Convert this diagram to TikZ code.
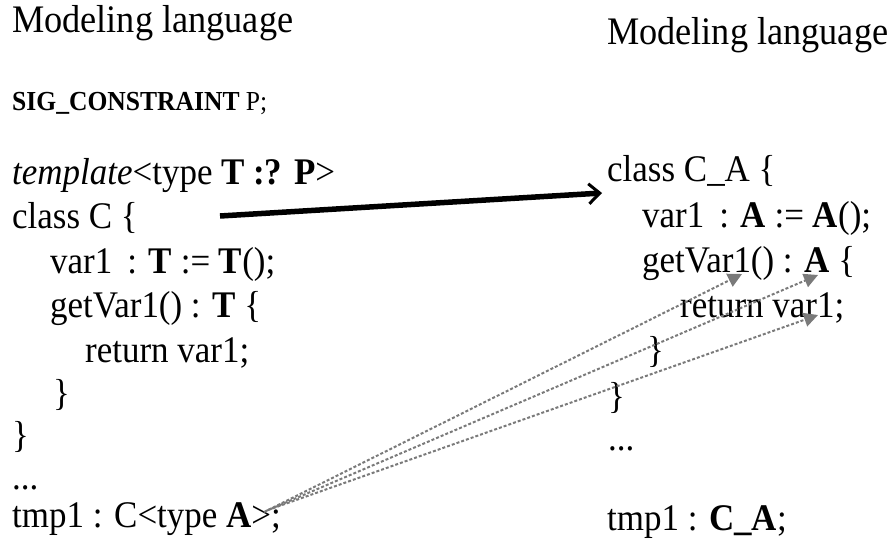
\documentclass[tikz,border=0pt]{standalone}
\usepackage{fontspec}
\setmainfont[FakeStretch=0.93]{Liberation Serif}
\usetikzlibrary{arrows.meta}
\definecolor{arrowgray}{HTML}{7A7A7A}
\begin{document}
\begin{tikzpicture}[x=1pt,y=-1pt]
\useasboundingbox (0,0) rectangle (893,548);
\tikzset{
  titletext/.style={anchor=base west, inner sep=0pt, font=\fontsize{39}{42}\selectfont},
  codetext/.style={anchor=base west, inner sep=0pt, font=\fontsize{37.6}{40}\selectfont},
  sigtext/.style={anchor=base west, inner sep=0pt, font=\fontsize{27.5}{30}\selectfont},
  bigarrow/.style={line width=5.5pt, -{Straight Barb[length=11pt,width=20pt,line width=3pt]}},
  maparrow/.style={draw=arrowgray, line width=2pt, dash pattern=on 3pt off 2pt, -{Triangle[length=14pt,width=14pt]}}
}
% left column
\node[titletext] (ltitle) at (12,33) {Modeling language};
\node[sigtext] (sig) at (12,111) {\textbf{SIG\_CONSTRAINT} P;};
\node[codetext] (ltemplate) at (12,185) {\textit{template}<type \textbf{T :? P}>};
\node[codetext] (lclass) at (12,228) {class C \{};
\node[codetext] (lvar) at (50,273) {var1 \,: \textbf{T} := \textbf{T}();};
\node[codetext] (lget) at (50,317) {getVar1() : \textbf{T} \{};
\node[codetext] (lret) at (85,362) {return var1;};
\node[codetext] (lbrace1) at (53,405) {\}};
\node[codetext] (lbrace2) at (12,447) {\}};
\node[codetext] (ldots) at (12,489) {...};
\node[codetext] (ltmp) at (12,527) {tmp1 : C<type \textbf{A}>;};
% right column
\node[titletext] (rtitle) at (607,45) {Modeling language};
\node[codetext] (rclass) at (607,182) {class C\_A \{};
\node[codetext] (rvar) at (642,227) {var1 \,: \textbf{A} := \textbf{A}();};
\node[codetext] (rget) at (642,272) {getVar1() : \textbf{A} \{};
\node[codetext] (rret) at (680,317) {return var1;};
\node[codetext] (rbrace1) at (647,362) {\}};
\node[codetext] (rbrace2) at (608,408) {\}};
\node[codetext] (rdots) at (608,450) {...};
\node[codetext] (rtmp) at (607,530) {tmp1 : \textbf{C\_A};};
% connectors
\coordinate (bigstart) at (220,216);
\coordinate (bigend) at (602,193);
\draw[bigarrow] (bigstart) -- (bigend);
\coordinate (ms1) at (264,512);
\coordinate (ms2) at (266,511);
\coordinate (ms3) at (268,510);
\coordinate (me1) at (742,274);
\coordinate (me2) at (818,275);
\coordinate (me3) at (818,315);
\draw[maparrow] (ms1) -- (me1);
\draw[maparrow] (ms2) -- (me2);
\draw[maparrow] (ms3) -- (me3);
\end{tikzpicture}
\end{document}
